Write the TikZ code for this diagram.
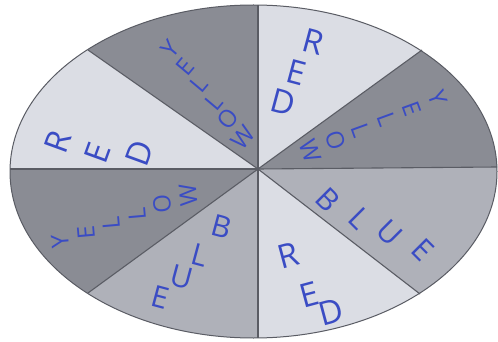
\documentclass[tikz,border=0pt]{standalone}
\usepackage{fontspec}
\setsansfont{Open Sans}
\usetikzlibrary{calc}

\definecolor{lightsec}{HTML}{DBDDE4}
\definecolor{midsec}{HTML}{AFB1B9}
\definecolor{darksec}{HTML}{8A8C94}
\definecolor{pen}{HTML}{3A4CC4}
\definecolor{rim}{HTML}{5A5C64}

\begin{document}
\begin{tikzpicture}[x=1pt, y=-1pt,
  spoke/.style={draw=rim, line width=1.1pt},
  letter/.style={text=pen, font=\sffamily\fontsize{30}{30}\selectfont, inner sep=0pt},
  smallletter/.style={letter, font=\sffamily\fontsize{24}{24}\selectfont},
  bigletter/.style={letter, font=\sffamily\fontsize{33}{33}\selectfont}]
  \fill[white] (0,0) rectangle (498,342);
  \useasboundingbox (0,0) rectangle (498,342);

  % hub and where the spokes meet the rim
  \coordinate (hub) at (258,169);
  \coordinate (e0) at (497,167);
  \coordinate (e45) at (422,50);
  \coordinate (e90) at (258,5);
  \coordinate (e135) at (88,50);
  \coordinate (e180) at (10,169);
  \coordinate (e225) at (88,293);
  \coordinate (e270) at (258,338);
  \coordinate (e315) at (420,294);

  % sectors
  \begin{scope}
    \clip (253.5,171.5) ellipse [x radius=243.5, y radius=166.5];
    \foreach \a/\b/\c in {e0/e45/darksec, e45/e90/lightsec, e90/e135/darksec, e135/e180/lightsec,
                          e180/e225/darksec, e225/e270/midsec, e270/e315/lightsec, e315/e0/midsec}
      \fill[\c] (hub) -- ($(hub)!2!(\a)$) -- ($(hub)!2!(\b)$) -- cycle;
  \end{scope}
  \foreach \e in {e0,e45,e90,e135,e180,e225,e270,e315}
    \draw[spoke] (hub) -- (\e);
  \draw[spoke, line width=1pt] (253.5,171.5) ellipse [x radius=243.5, y radius=166.5];

  % hand lettering
  \foreach \ch/\px/\py [count=\i] in {R/313/42, E/296/72, D/283/102}
    \node[bigletter, rotate=-15] (redne-\i) at (\px,\py) {\ch};
  \foreach \ch/\px/\py [count=\i] in {Y/438/98, E/412/109, L/387/119, L/361/130, O/336/140, W/310/151}
    \node[smallletter, rotate=-70] (yellowe-\i) at (\px,\py) {\ch};
  \foreach \ch/\px/\py [count=\i] in {Y/170/49, E/185/67, L/199/84, L/214/102, O/228/119, W/243/137}
    \node[smallletter, rotate=50] (yellown-\i) at (\px,\py) {\ch};
  \foreach \ch/\px/\py [count=\i] in {R/58/142, E/98/153, D/140/153}
    \node[bigletter, rotate=70] (redw-\i) at (\px,\py) {\ch};
  \foreach \ch/\px/\py [count=\i] in {Y/60/242, E/86/233, L/111/223, L/137/214, O/162/204, W/188/195}
    \node[smallletter, rotate=95] (yelloww-\i) at (\px,\py) {\ch};
  \foreach \ch/\px/\py [count=\i] in {B/222/227, L/200/255, U/182/277, E/160/297}
    \node[letter, rotate=-15] (bluesw-\i) at (\px,\py) {\ch};
  \foreach \ch/\px/\py [count=\i] in {R/288/255, E/309/295, D/331/312}
    \node[bigletter, rotate=15] (reds-\i) at (\px,\py) {\ch};
  \foreach \ch/\px/\py [count=\i] in {B/328/200, L/360/218, U/390/233, E/423/250}
    \node[letter, rotate=-45] (bluese-\i) at (\px,\py) {\ch};
\end{tikzpicture}
\end{document}
